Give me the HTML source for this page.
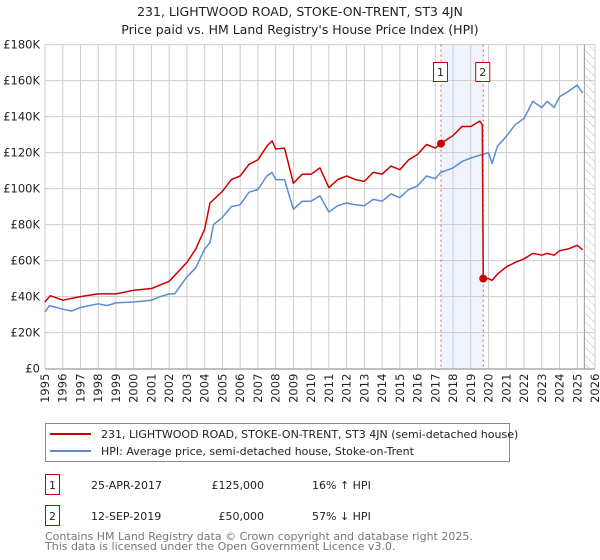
<!DOCTYPE html>
<html><head><meta charset="utf-8"><style>
body{margin:0;background:#fff;}
svg{display:block;font-family:"DejaVu Sans","Liberation Sans",sans-serif;}
</style></head><body>
<svg id="chart" width="600" height="560" viewBox="0 0 600 560" xmlns="http://www.w3.org/2000/svg">
<defs>
<pattern id="hatch" width="6" height="6" patternUnits="userSpaceOnUse" patternTransform="rotate(-45)">
<line x1="0" y1="0" x2="0" y2="6" stroke="#bbb" stroke-width="1"/>
</pattern>
</defs>
<text x="300" y="16" text-anchor="middle" font-size="12.5" fill="#222">231, LIGHTWOOD ROAD, STOKE-ON-TRENT, ST3 4JN</text>
<text x="300" y="34" text-anchor="middle" font-size="12.5" fill="#222">Price paid vs. HM Land Registry's House Price Index (HPI)</text>
<g id="grid"></g>
<g id="marks"></g>
<g id="axes"></g>

<g>
<rect x="45.5" y="423.5" width="464" height="38" fill="#fff" stroke="#888"/>
<line x1="50" y1="434" x2="91" y2="434" stroke="#cc0000" stroke-width="2"/>
<text x="101" y="438" font-size="11" fill="#222">231, LIGHTWOOD ROAD, STOKE-ON-TRENT, ST3 4JN (semi-detached house)</text>
<line x1="50" y1="451" x2="91" y2="451" stroke="#5b8bd0" stroke-width="2"/>
<text x="101" y="455" font-size="11" fill="#222">HPI: Average price, semi-detached house, Stoke-on-Trent</text>
</g>

<g>
<rect x="45.5" y="474.5" width="14" height="20" fill="#fff" stroke="#cc0000"/>
<text x="52.5" y="489" text-anchor="middle" font-size="11" fill="#222">1</text>
<text x="91" y="489" font-size="11" fill="#222">25-APR-2017</text>
<text x="264" y="489" text-anchor="end" font-size="11" fill="#222">£125,000</text>
<text x="312" y="489" font-size="11" fill="#222">16% ↑ HPI</text>
<rect x="45.5" y="505.5" width="14" height="20" fill="#fff" stroke="#cc0000"/>
<text x="52.5" y="520" text-anchor="middle" font-size="11" fill="#222">2</text>
<text x="91" y="520" font-size="11" fill="#222">12-SEP-2019</text>
<text x="264" y="520" text-anchor="end" font-size="11" fill="#222">£50,000</text>
<text x="312" y="520" font-size="11" fill="#222">57% ↓ HPI</text>
</g>
<text x="45" y="540" font-size="11" fill="#777">Contains HM Land Registry data © Crown copyright and database right 2025.</text>
<text x="45" y="550" font-size="11" fill="#777">This data is licensed under the Open Government Licence v3.0.</text>
</svg>
<script>
const hpiYears = [1995,1995.25,1996,1996.5,1997,1998,1998.5,1999,2000,2001,2001.5,2002,2002.3,2003,2003.5,2004,2004.3,2004.5,2005,2005.5,2006,2006.5,2007,2007.5,2007.8,2008,2008.5,2009,2009.5,2010,2010.5,2011,2011.5,2012,2012.5,2013,2013.5,2014,2014.5,2015,2015.5,2016,2016.5,2017,2017.3,2018,2018.5,2019,2019.5,2020,2020.2,2020.5,2021,2021.5,2022,2022.5,2023,2023.3,2023.7,2024,2024.5,2025,2025.3];
const hpiValues = [31.5,35,33,32,34,36,35,36.5,37,38,40,41.5,41.5,51,56,66.5,70,80,84,90,91,98,99.5,107,109,105,105,88.5,93,93,96,87,90.5,92,91,90.5,94,93,97,95,99.5,101.5,107,105.5,109,111.5,115,117,118.5,120,114,123.5,129,135.5,139,148.5,145,148.5,145,151,154,157.5,153];
const propYears = [1995,1995.3,1996,1997,1998,1999,2000,2001,2002,2003,2003.5,2004,2004.3,2005,2005.5,2006,2006.5,2007,2007.5,2007.8,2008,2008.5,2009,2009.5,2010,2010.5,2011,2011.5,2012,2012.5,2013,2013.5,2014,2014.5,2015,2015.5,2016,2016.5,2017,2017.3,2018,2018.5,2019,2019.5,2019.65,2019.7,2020,2020.2,2020.5,2021,2021.5,2022,2022.5,2023,2023.3,2023.7,2024,2024.5,2025,2025.3];
const propValues = [37,40.5,38,40,41.5,41.5,43.5,44.5,48.5,59,66.5,77.5,92,98.5,105,107,113.5,116,123.5,126.5,122,122.5,103,108,108,111.5,100.5,105,107,105,104,109,108,112.5,110.5,116,119,124.5,122.5,125,129.5,134.5,134.5,137.5,135.5,50,50,49,52.5,56.5,59,61,64,63,64,63,65.5,66.5,68.5,66];
const saleYears = [2017.32, 2019.7];
const saleValues = [125, 50];
const saleLabels = ["1","2"];
const yTicks = [0,20,40,60,80,100,120,140,160,180];
const yTickLabels = ["£0","£20K","£40K","£60K","£80K","£100K","£120K","£140K","£160K","£180K"];
const xTicks = [1995,1996,1997,1998,1999,2000,2001,2002,2003,2004,2005,2006,2007,2008,2009,2010,2011,2012,2013,2014,2015,2016,2017,2018,2019,2020,2021,2022,2023,2024,2025,2026];

const X0=45, X1=595, Y0=368.6, Y1=44.6;
const xs = v => X0 + (v-1995)/(2026-1995)*(X1-X0);
const ys = v => Y0 - v/180*(Y0-Y1);
const NS="http://www.w3.org/2000/svg";
function mk(parent, tag, attrs){const e=document.createElementNS(NS,tag);for(const k in attrs)e.setAttribute(k,attrs[k]);parent.appendChild(e);return e;}
const grid=document.getElementById('grid'), marks=document.getElementById('marks'), axes=document.getElementById('axes');

// background
const bg = mk(grid,'rect',{x:X0,y:Y1,width:X1-X0,height:Y0-Y1,fill:'#fff'});


// shaded band between sales
const band = mk(grid,'rect',{x:xs(saleYears[0]),y:Y1,width:xs(saleYears[1])-xs(saleYears[0]),height:Y0-Y1,fill:'#eef3fc'});


// hatch future region
const hz = mk(grid,'rect',{x:xs(2025.4),y:Y1,width:X1-xs(2025.4),height:Y0-Y1,fill:'url(#hatch)'});



xTicks.forEach(t=>{
  const l = mk(grid,'line',{x1:xs(t),x2:xs(t),y1:Y1,y2:Y0,stroke:'#ccc','stroke-width':1});
  
  
  const tx = mk(axes,'text',{transform:`translate(${xs(t)+4},${Y0+5}) rotate(-90)`,'text-anchor':'end','font-size':11.5,fill:'#222'});
  tx.textContent=String(t);
  
  
});
yTicks.forEach((t,i)=>{
  const l = mk(grid,'line',{x1:X0,x2:X1,y1:ys(t),y2:ys(t),stroke:'#ccc','stroke-width':1});
  
  
  const tx = mk(axes,'text',{x:X0-5,y:ys(t)+4,'text-anchor':'end','font-size':11.5,fill:'#222'});
  tx.textContent=yTickLabels[i];
  
  
});
const hl = mk(grid,'line',{x1:xs(2025.4),x2:xs(2025.4),y1:Y1,y2:Y0,stroke:'#999','stroke-width':1});


const ax = mk(axes,'line',{x1:X0,x2:X1,y1:Y0+0.5,y2:Y0+0.5,stroke:'#999'});



saleYears.forEach((s,i)=>{
  const l = mk(marks,'line',{x1:xs(s),x2:xs(s),y1:Y1,y2:Y0,stroke:'#e06060','stroke-width':1,'stroke-dasharray':'2,3'});
  
  
  const r = mk(marks,'rect',{x:xs(s)-7.5,y:62.5,width:14,height:19,fill:'#fff',stroke:'#cc0000'});
  
  
  const t = mk(marks,'text',{x:xs(s)-0.5,y:76,'text-anchor':'middle','font-size':11,fill:'#222'});
  t.textContent=saleLabels[i];
  
  
});

const hp = mk(marks,'polyline',{points:hpiYears.map((y,i)=>xs(y)+','+ys(hpiValues[i])).join(' '),fill:'none',stroke:'#5b8bd0','stroke-width':1.5,'stroke-linejoin':'round'});


const pp = mk(marks,'polyline',{points:propYears.map((y,i)=>xs(y)+','+ys(propValues[i])).join(' '),fill:'none',stroke:'#cc0000','stroke-width':1.5,'stroke-linejoin':'round'});


saleYears.forEach((s,i)=>{
  const c = mk(marks,'circle',{cx:xs(s),cy:ys(saleValues[i]),r:4,fill:'#cc0000'});
  
  
});
</script>
</body></html>
